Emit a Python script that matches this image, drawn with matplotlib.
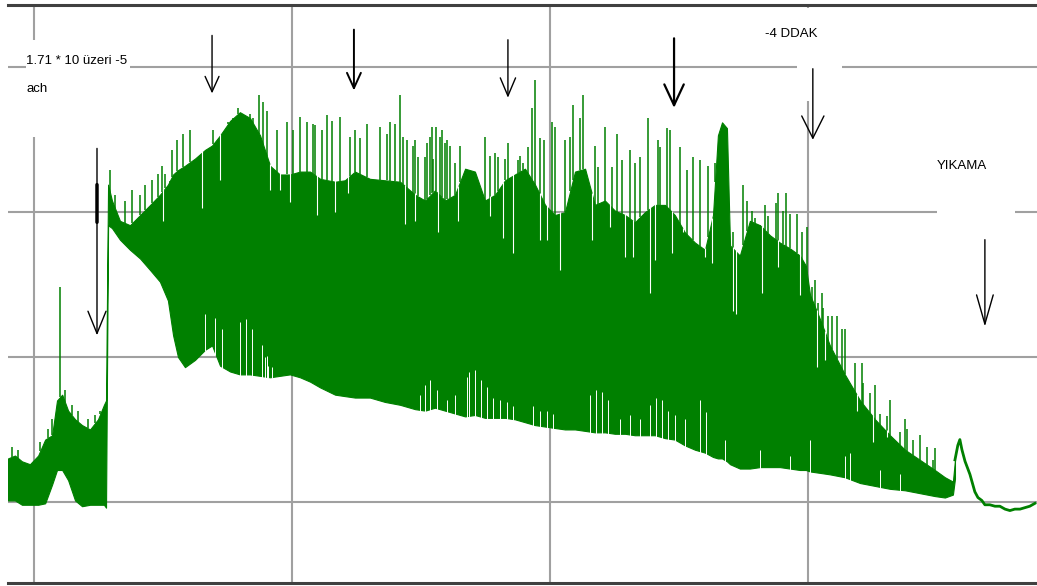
import matplotlib
import numpy as np

matplotlib.use("Agg")
import matplotlib.pyplot as plt  # noqa: E402
from matplotlib.patches import Rectangle  # noqa: E402

# Isometric tension record, time in min, tension in g.
# Envelope of the oscillating trace (peaks / troughs of the dense part).
env_t = [-1.01, -0.74, -0.47, -0.16, 0.16, 0.43, 0.70, 0.89, 1.09, 1.32, 1.59, 1.86,
         2.17, 2.48, 2.71, 2.79, 2.87, 3.02, 3.33, 3.72, 4.11, 4.50, 4.88, 5.19,
         5.39, 5.58, 5.85, 6.24, 6.63, 6.90, 7.21, 7.60, 7.98, 8.37, 8.76, 9.15,
         9.53, 9.92, 10.31, 10.70, 11.09, 11.67, 12.05, 12.44, 13.02, 13.60, 14.19,
         14.77, 15.16, 15.54, 15.93, 16.32, 16.71, 17.09, 17.48, 17.87, 18.26, 18.64,
         19.03, 19.42, 19.81, 20.19, 20.58, 20.97, 21.36, 21.74, 22.13, 22.52, 22.91,
         23.29, 23.68, 24.07, 24.46, 24.84, 25.23, 25.62, 26.01, 26.32, 26.51, 26.67,
         26.86, 26.98, 27.36, 27.75, 28.14, 28.53, 28.91, 29.30, 29.69, 29.92, 30.08,
         30.47, 30.85, 31.43, 32.02, 32.60, 33.18, 33.76, 34.34, 34.92, 35.31, 35.62,
         35.70]
env_hi = [0.30, 0.32, 0.28, 0.26, 0.32, 0.43, 0.46, 0.70, 0.74, 0.63, 0.57, 0.53,
          0.50, 0.57, 0.67, 0.70, 2.19, 2.08, 1.94, 1.91, 1.98, 2.05, 2.12, 2.19,
          2.26, 2.29, 2.32, 2.37, 2.43, 2.46, 2.53, 2.63, 2.69, 2.65, 2.53, 2.32,
          2.26, 2.26, 2.28, 2.28, 2.23, 2.21, 2.22, 2.28, 2.23, 2.22, 2.21,
          2.12, 2.08, 2.15, 2.08, 2.12, 2.30, 2.28, 2.08, 2.12, 2.22, 2.26,
          2.30, 2.19, 2.05, 1.98, 2.00, 2.28, 2.30, 2.05, 2.08, 2.01, 1.98,
          1.93, 2.00, 2.05, 2.05, 1.98, 1.86, 1.79, 1.74, 1.98, 2.53, 2.62,
          2.58, 1.77, 1.70, 1.94, 1.91, 1.84, 1.79, 1.75, 1.70, 1.63, 1.43,
          1.26, 1.08, 0.88, 0.70, 0.57, 0.46, 0.36, 0.29, 0.22, 0.17, 0.14,
          0.29]
env_lo = [0.01, 0.01, -0.02, -0.02, -0.02, -0.01, 0.12, 0.22, 0.22, 0.15, 0.01, -0.03,
          -0.02, -0.02, -0.02, -0.04, 1.91, 1.89, 1.81, 1.74, 1.68, 1.60, 1.52, 1.39,
          1.15, 1.00, 0.93, 0.98, 1.05, 1.08, 0.94, 0.90, 0.88, 0.88, 0.87, 0.86,
          0.87, 0.88, 0.86, 0.83, 0.79, 0.74, 0.73, 0.72, 0.72, 0.69, 0.67,
          0.64, 0.63, 0.65, 0.63, 0.61, 0.59, 0.60, 0.58, 0.58, 0.58, 0.57,
          0.55, 0.53, 0.52, 0.51, 0.50, 0.50, 0.49, 0.48, 0.48, 0.47, 0.47,
          0.46, 0.46, 0.46, 0.44, 0.43, 0.39, 0.36, 0.34, 0.31, 0.30, 0.30,
          0.28, 0.26, 0.23, 0.23, 0.24, 0.24, 0.24, 0.23, 0.22, 0.22, 0.21,
          0.20, 0.19, 0.17, 0.13, 0.11, 0.09, 0.08, 0.06, 0.04, 0.03, 0.05,
          0.16]

# Individual contraction peaks standing above the envelope
spike_t = [-0.85, -0.62, 0.23, 0.54, 0.70, 1.01, 1.20, 1.47, 1.71, 2.09, 2.36, 2.56,
           2.95, 3.14, 3.53, 3.80, 4.11, 4.30, 4.57, 4.81, 4.96, 5.08, 5.27, 5.35,
           5.54, 5.78, 6.05, 6.94, 7.48, 7.52, 7.71, 7.91, 8.37, 8.49, 8.72, 8.88,
           9.03, 9.42, 9.81, 10.04, 10.31, 10.58, 10.81, 10.89, 11.16, 11.36, 11.55,
           11.86, 12.25, 12.44, 12.64, 12.91, 13.41, 13.68, 13.80, 13.99, 14.19, 14.30,
           14.46, 14.69, 14.77, 14.88, 15.16, 15.23, 15.35, 15.43, 15.47, 15.58, 15.74,
           15.81, 15.93, 16.01, 16.12, 16.32, 16.51, 17.48, 17.67, 17.87, 17.98, 18.26,
           18.37, 18.76, 18.84, 18.95, 19.15, 19.30, 19.42, 19.61, 19.77, 20.08, 20.19,
           20.58, 20.78, 20.89, 21.16, 21.28, 21.74, 21.86, 22.13, 22.40, 22.60, 22.79,
           23.10, 23.29, 23.49, 23.80, 24.19, 24.26, 24.53, 24.65, 25.04, 25.31, 25.54,
           25.81, 26.12, 26.40, 27.09, 27.48, 27.64, 27.83, 27.95, 28.14, 28.33, 28.45,
           28.76, 28.84, 29.03, 29.15, 29.30, 29.57, 29.77, 29.96, 30.16, 30.27, 30.39,
           30.54, 30.58, 30.78, 30.93, 31.12, 31.32, 31.43, 31.82, 32.09, 32.13, 32.40,
           32.60, 32.79, 33.06, 33.18, 33.57, 33.76, 33.84, 34.07, 34.34, 34.61, 34.84,
           34.92]
spike_top = [0.38, 0.36, 0.41, 0.50, 0.57, 1.48, 0.77, 0.67, 0.63, 0.57, 0.60, 0.63,
             2.29, 2.12, 2.08, 2.15, 2.12, 2.19, 2.22, 2.26, 2.32, 2.26, 2.15, 2.43,
             2.50, 2.54, 2.57, 2.57, 2.60, 2.62, 2.61, 2.72, 2.68, 2.65, 2.81, 2.76,
             2.70, 2.57, 2.62, 2.57, 2.66, 2.62, 2.61, 2.60, 2.57, 2.67, 2.63,
             2.66, 2.52, 2.57, 2.51, 2.61, 2.59, 2.54, 2.62, 2.61, 2.81, 2.52,
             2.50, 2.46, 2.50, 2.38, 2.38, 2.48, 2.52, 2.59, 2.37, 2.59, 2.52,
             2.57, 2.48, 2.50, 2.46, 2.34, 2.46, 2.52, 2.39, 2.41, 2.38, 2.37,
             2.48, 2.36, 2.39, 2.34, 2.45, 2.72, 2.91, 2.51, 2.50, 2.62, 2.59,
             2.50, 2.52, 2.74, 2.65, 2.81, 2.46, 2.31, 2.59, 2.31, 2.54, 2.36,
             2.43, 2.34, 2.38, 2.65, 2.50, 2.45, 2.58, 2.57, 2.45, 2.29, 2.38,
             2.36, 2.32, 2.34, 1.86, 2.19, 2.08, 2.01, 1.96, 1.86, 2.05, 1.97,
             2.06, 2.13, 2.01, 2.13, 1.99, 1.99, 1.86, 1.90, 1.48, 1.53, 1.37,
             1.44, 1.34, 1.28, 1.28, 1.28, 1.19, 1.19, 0.96, 0.96, 0.82, 0.75,
             0.81, 0.61, 0.59, 0.70, 0.48, 0.57, 0.50, 0.43, 0.46, 0.38, 0.29,
             0.37]

# Short relaxations cutting down into the peak band
notch_t = [5.00, 6.51, 7.21, 9.15, 9.53, 9.92, 10.97, 11.67, 12.17, 14.38, 14.77, 15.66,
           16.43, 17.67, 18.18, 18.57, 19.61, 19.88, 20.39, 21.63, 22.33, 22.91, 23.22,
           23.88, 24.07, 24.73, 25.16, 26.01, 26.28, 27.09, 27.21, 28.22, 28.84, 29.69,
           30.35, 30.66, 31.90, 32.52, 33.06]
notch_bottom = [1.94, 2.03, 2.22, 2.15, 2.15, 2.07, 1.98, 2.00, 2.13, 1.92, 1.94, 1.86,
                1.94, 1.97, 1.82, 1.72, 1.81, 1.81, 1.60, 1.81, 1.90, 1.69, 1.69,
                1.44, 1.67, 1.72, 1.86, 1.69, 1.65, 1.32, 1.30, 1.44, 1.62, 1.43,
                0.93, 0.98, 0.63, 0.41, 0.45]

# Shallow troughs that leave gaps along the lower edge
gap_t = [6.63, 7.02, 7.29, 7.98, 8.22, 8.45, 8.84, 8.95, 9.03, 9.07, 9.22, 14.96, 15.16,
         15.35, 15.62, 16.01, 16.32, 16.78, 16.86, 17.09, 17.33, 17.56, 17.79, 18.06,
         18.33, 18.57, 19.34, 19.61, 19.88, 20.12, 21.55, 21.78, 22.02, 22.25, 22.71,
         23.10, 23.49, 23.88, 24.11, 24.34, 24.57, 24.84, 25.23, 25.81, 26.05, 26.78,
         28.14, 29.30, 30.08, 31.43, 31.63, 32.79, 33.57]
gap_top = [1.30, 1.27, 1.19, 1.24, 1.26, 1.19, 1.08, 1.00, 1.01, 0.94, 0.93, 0.74, 0.81,
           0.84, 0.77, 0.70, 0.74, 0.86, 0.90, 0.91, 0.84, 0.79, 0.72, 0.70,
           0.69, 0.66, 0.66, 0.63, 0.63, 0.61, 0.74, 0.77, 0.76, 0.70, 0.57,
           0.60, 0.57, 0.67, 0.72, 0.70, 0.63, 0.60, 0.57, 0.70, 0.62, 0.43,
           0.36, 0.32, 0.43, 0.32, 0.34, 0.22, 0.19]

# After washout the trace is a single line
wash_t = [35.70, 35.81, 35.89, 35.97, 36.09, 36.28, 36.47, 36.59, 36.74, 36.86, 37.05,
          37.25, 37.44, 37.64, 37.83, 38.02, 38.22, 38.41, 38.60, 38.80]
wash_v = [0.29, 0.39, 0.43, 0.36, 0.28, 0.19, 0.07, 0.03, 0.01, -0.02, -0.02,
          -0.03, -0.03, -0.05, -0.06, -0.05, -0.05, -0.04, -0.03, -0.01]

# Addition marks: time, arrow start and tip (g)
arrow_t = [2.44, 6.90, 12.40, 18.37, 24.81, 30.19, 36.86]
arrow_from = [2.44, 3.22, 3.26, 3.19, 3.20, 2.99, 1.81]
arrow_to = [1.15, 2.82, 2.84, 2.79, 2.72, 2.50, 1.21]
arrow_head = [(1.6, 0.65), (1.1, 0.5), (1.1, 0.5), (1.3, 0.55), (1.5, 0.7), (1.6, 0.8), (2.1, 0.6)]
arrow_lw = [1.0, 1.0, 1.4, 1.0, 1.6, 1.0, 1.0]

TRACE = "#008000"
FONT = ["Liberation Sans Narrow", "Liberation Sans", "DejaVu Sans"]

fig = plt.figure(figsize=(10.37, 5.86), dpi=100)
ax = fig.add_axes([8 / 1037, 3 / 586, 1029 / 1037, 578 / 586])
ax.set_xlim(-1.01, 38.88)
ax.set_ylim(-0.56, 3.43)

ax.set_xticks([0, 10, 20, 30])
ax.set_yticks([0, 1, 2, 3])
ax.tick_params(length=0, labelbottom=False, labelleft=False)
ax.set_axisbelow(True)
ax.grid(True, color="#a0a0a0", lw=1.5)
for side in ("left", "right"):
    ax.spines[side].set_visible(False)
for side in ("top", "bottom"):
    ax.spines[side].set_color("#404040")
    ax.spines[side].set_linewidth(2.2)

# white label backgrounds
for x0, y0, w, h in [(-0.31, 2.52, 4.03, 0.67), (29.57, 2.77, 1.75, 0.64), (35.0, 1.81, 3.02, 0.38)]:
    ax.add_patch(Rectangle((x0, y0), w, h, facecolor="white", edgecolor="none", zorder=1))

ax.fill_between(env_t, env_lo, env_hi, color=TRACE, lw=0.8, zorder=2)
base = np.interp(spike_t, env_t, env_hi)
ax.vlines(spike_t, base, spike_top, color=TRACE, lw=1.1, zorder=2)
top = np.interp(notch_t, env_t, env_hi)
ax.vlines(notch_t, notch_bottom, top + 0.01, color="white", lw=0.8, zorder=2.1)
low = np.interp(gap_t, env_t, env_lo)
ax.vlines(gap_t, low - 0.01, gap_top, color="white", lw=0.7, zorder=2.1)
ax.plot(wash_t, wash_v, color=TRACE, lw=2.0, zorder=2)

for t, y0, y1, (hl, hw), lw in zip(arrow_t, arrow_from, arrow_to, arrow_head, arrow_lw):
    ax.annotate("", xy=(t, y1), xytext=(t, y0), zorder=4,
                arrowprops=dict(arrowstyle=f"->,head_length={hl},head_width={hw}",
                                color="black", lw=lw, shrinkA=0, shrinkB=0))
ax.annotate("", xy=(arrow_t[0], 1.93), xytext=(arrow_t[0], 2.19), zorder=4,
            arrowprops=dict(arrowstyle="-", color="black", lw=2.5, shrinkA=0, shrinkB=0))

ax.text(-0.31, 3.02, "1.71 * 10 üzeri -5", family=FONT, fontsize=9.5, va="baseline", zorder=3)
ax.text(-0.31, 2.83, "ach", family=FONT, fontsize=9.5, va="baseline", zorder=3)
ax.text(28.33, 3.21, "-4 DDAK", family=FONT, fontsize=9.5, va="baseline", zorder=3)
ax.text(35.0, 2.30, "YIKAMA", family=FONT, fontsize=9.5, va="baseline", zorder=3)

fig.savefig("out.png", dpi=100)
plt.close(fig)
